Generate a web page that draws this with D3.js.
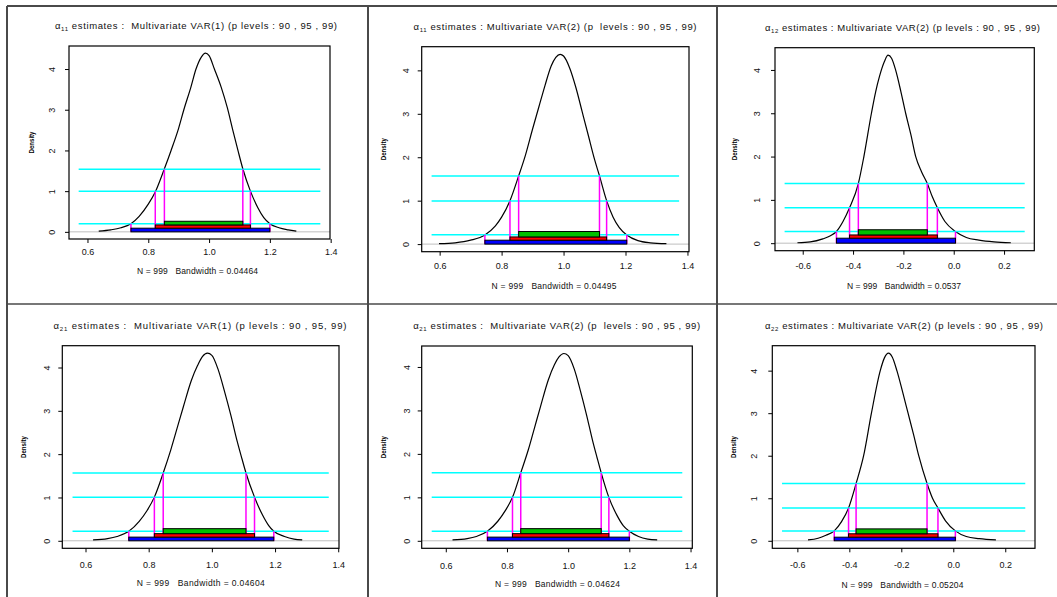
<!DOCTYPE html>
<html><head><meta charset="utf-8">
<script src="https://cdnjs.cloudflare.com/ajax/libs/d3/7.8.5/d3.min.js"></script>
<style>
body{margin:0;background:#fff}
svg{display:block}
text{font-family:"Liberation Sans",Arial,Helvetica,sans-serif}
</style>
</head><body>
<svg id="c" width="1057" height="597"></svg>
<script>
// ---------------- DATA ----------------
const titleSubs = ["11", "11", "12", "21", "21", "22"];
const titleRest = [
  " estimates :  Multivariate VAR(1) (p levels : 90 , 95 , 99)",
  " estimates : Multivariate VAR(2) (p  levels : 90 , 95 , 99)",
  " estimates : Multivariate VAR(2) (p levels : 90 , 95 , 99)",
  " estimates :  Multivariate VAR(1) (p levels : 90 , 95, 99)",
  " estimates :  Multivariate VAR(2) (p  levels : 90 , 95 , 99)",
  " estimates : Multivariate VAR(2) (p levels : 90 , 95 , 99)"
];
const nObs = 999;
const bandwidths = ["0.04464", "0.04495", "0.0537", "0.04604", "0.04624", "0.05204"];
const xTicksPos = [0.6, 0.8, 1.0, 1.2, 1.4];
const xTicksNeg = [-0.6, -0.4, -0.2, 0.0, 0.2];
const yTicks = [0, 1, 2, 3, 4];

// density curves (x, density)
const densX1 = [0.637,0.677,0.71,0.743,0.77,0.80,0.823,0.853,0.875,0.90,0.917,0.94,0.957,0.975,0.988,1.0,1.0175,1.04,1.06,1.078,1.095,1.111,1.136,1.16,1.18,1.2,1.23,1.26,1.287];
const densY1 = [0.02,0.05,0.1,0.2,0.38,0.68,0.98,1.55,2.0,2.55,3.0,3.55,4.0,4.3,4.39,4.33,4.0,3.55,3.05,2.5,2.0,1.55,1.0,0.6,0.35,0.2,0.1,0.05,0.02];
const densX2 = [0.598,0.65,0.70,0.746,0.78,0.80,0.827,0.855,0.877,0.90,0.92,0.94,0.96,0.975,0.989,1.0,1.02,1.04,1.06,1.08,1.10,1.116,1.139,1.16,1.18,1.204,1.24,1.28,1.332];
const densY2 = [0.01,0.03,0.09,0.21,0.42,0.62,1.0,1.57,2.05,2.65,3.15,3.65,4.1,4.3,4.37,4.33,4.05,3.6,3.05,2.5,1.95,1.57,1.0,0.62,0.38,0.21,0.08,0.03,0.01];
const densX3 = [-0.621,-0.57,-0.52,-0.49,-0.466,-0.44,-0.414,-0.379,-0.357,-0.327,-0.31,-0.295,-0.275,-0.261,-0.247,-0.231,-0.21,-0.191,-0.17,-0.151,-0.128,-0.105,-0.085,-0.065,-0.035,0.007,0.05,0.10,0.16,0.227];
const densY3 = [0.01,0.03,0.1,0.17,0.27,0.5,0.818,1.377,2.0,3.0,3.5,3.85,4.2,4.34,4.27,4.0,3.5,3.0,2.5,2.0,1.65,1.377,1.07,0.818,0.5,0.27,0.13,0.07,0.03,0.01];
const densX4 = [0.624,0.67,0.70,0.737,0.77,0.795,0.818,0.846,0.87,0.89,0.91,0.935,0.955,0.97,0.986,1.0,1.02,1.04,1.06,1.08,1.095,1.108,1.135,1.16,1.18,1.196,1.23,1.26,1.286];
const densY4 = [0.02,0.05,0.1,0.22,0.45,0.7,1.008,1.565,2.1,2.6,3.1,3.7,4.05,4.25,4.33,4.28,3.95,3.45,2.9,2.3,1.9,1.565,1.008,0.6,0.35,0.22,0.1,0.04,0.02];
const densX5 = [0.622,0.67,0.70,0.736,0.77,0.795,0.818,0.845,0.87,0.89,0.91,0.935,0.955,0.97,0.986,1.0,1.02,1.04,1.06,1.08,1.095,1.108,1.133,1.16,1.18,1.2,1.23,1.26,1.291];
const densY5 = [0.02,0.05,0.1,0.22,0.45,0.7,1.0,1.565,2.1,2.6,3.1,3.7,4.05,4.23,4.31,4.26,3.95,3.45,2.9,2.3,1.9,1.565,1.0,0.58,0.35,0.22,0.1,0.04,0.02];
const densX6 = [-0.559,-0.52,-0.49,-0.458,-0.43,-0.403,-0.374,-0.345,-0.315,-0.281,-0.265,-0.249,-0.235,-0.217,-0.195,-0.174,-0.153,-0.133,-0.101,-0.08,-0.059,-0.03,0.008,0.05,0.10,0.164];
const densY6 = [0.02,0.06,0.13,0.233,0.45,0.77,1.346,2.0,3.0,4.0,4.3,4.41,4.32,4.0,3.5,3.0,2.5,2.0,1.346,1.0,0.77,0.47,0.233,0.1,0.05,0.02];

// quantile intervals [90%, 95%, 99%] as [low, high]
const quant1 = [[0.853,1.111],[0.823,1.136],[0.743,1.2]];
const quant2 = [[0.855,1.116],[0.827,1.139],[0.746,1.204]];
const quant3 = [[-0.379,-0.105],[-0.414,-0.065],[-0.466,0.007]];
const quant4 = [[0.846,1.108],[0.818,1.135],[0.737,1.196]];
const quant5 = [[0.845,1.108],[0.818,1.133],[0.736,1.2]];
const quant6 = [[-0.374,-0.101],[-0.403,-0.059],[-0.458,0.008]];
// density levels at the quantiles [90%, 95%, 99%]
const level1 = [1.54, 1.0, 0.2];
const level2 = [1.57, 0.995, 0.214];
const level3 = [1.377, 0.818, 0.27];
const level4 = [1.565, 1.008, 0.22];
const level5 = [1.565, 1.0, 0.22];
const level6 = [1.346, 0.77, 0.233];
// stacked interval bars edges: [0, top of 99%, top of 95%, top of 90%]
const barEdge1 = [0, 0.09, 0.17, 0.26];
const barEdge2 = [0, 0.09, 0.165, 0.29];
const barEdge3 = [0, 0.115, 0.19, 0.31];
const barEdge4 = [0, 0.085, 0.165, 0.28];
const barEdge5 = [0, 0.085, 0.165, 0.28];
const barEdge6 = [0, 0.085, 0.165, 0.28];
// horizontal range of the level lines (x limits)
const xlim1 = [0.571, 1.366];
const xlim2 = [0.574, 1.373];
const xlim3 = [-0.672, 0.282];
const xlim4 = [0.559, 1.370];
const xlim5 = [0.554, 1.373];
const xlim6 = [-0.659, 0.277];

// ---------------- LAYOUT ----------------
const layout = [
  {box:[69,46,330,239],      tx:196,   ty:26,   tw:282, xly:251.7, sx:197.5, sy:270.7, sw:121, ylx:32,    ytx:51.7},
  {box:[421.7,46.7,689,251.7], tx:555, ty:26.7, tw:283, xly:265.7, sx:554,   sy:285.7, sw:125, ylx:383.3, ytx:406},
  {box:[775,47.7,1034.3,250.7], tx:902.5, ty:27.3, tw:275, xly:265.7, sx:904, sy:285.7, sw:114, ylx:735, ytx:757.3},
  {box:[62.3,345.7,339,548.3], tx:200, ty:326,  tw:293, xly:565,   sx:200.8, sy:583.3, sw:128, ylx:24,    ytx:46.7},
  {box:[421.7,346,692.3,548.3], tx:556.7, ty:326, tw:287, xly:565.7, sx:557.5, sy:584, sw:125, ylx:384, ytx:406.7},
  {box:[772.3,345.7,1035,548.3], tx:904, ty:325.7, tw:278, xly:565, sx:902.5, sy:585, sw:122, ylx:734, ytx:754}
];

const panels = [
  {dx:densX1, dy:densY1, q:quant1, lev:level1, bar:barEdge1, xlim:xlim1, ticks:xTicksPos},
  {dx:densX2, dy:densY2, q:quant2, lev:level2, bar:barEdge2, xlim:xlim2, ticks:xTicksPos},
  {dx:densX3, dy:densY3, q:quant3, lev:level3, bar:barEdge3, xlim:xlim3, ticks:xTicksNeg},
  {dx:densX4, dy:densY4, q:quant4, lev:level4, bar:barEdge4, xlim:xlim4, ticks:xTicksPos},
  {dx:densX5, dy:densY5, q:quant5, lev:level5, bar:barEdge5, xlim:xlim5, ticks:xTicksPos},
  {dx:densX6, dy:densY6, q:quant6, lev:level6, bar:barEdge6, xlim:xlim6, ticks:xTicksNeg}
];

const FONT = '"Liberation Sans",Arial,Helvetica,sans-serif';
const barColors = ["#00c000", "#ff0000", "#0000ff"]; // 90, 95, 99
const svg = d3.select("#c");
svg.append("rect").attr("width",1057).attr("height",597).attr("fill","#fff");

// frame lines
const frame = svg.append("g").attr("stroke","#4a4a4a");
[[7,6,7,597,2],[368,6,368,597,2],[717,6,717,597,2],[7,6,1057,6,2],[7,304,1057,304,1.6]].forEach(l=>{
  frame.append("line").attr("x1",l[0]).attr("y1",l[1]).attr("x2",l[2]).attr("y2",l[3]).attr("stroke-width",l[4]);
});

const fmt = d => d3.format(".1f")(d).replace("\u2212","-");

panels.forEach((p,i)=>{
  const L = layout[i];
  const [x0,y0,x1,y1] = L.box;
  const ext = (p.xlim[1]-p.xlim[0])*0.04;
  const x = d3.scaleLinear().domain([p.xlim[0]-ext, p.xlim[1]+ext]).range([x0,x1]);
  const peak = d3.max(p.dy);
  const y = d3.scaleLinear().domain([-0.04*peak, 1.04*peak]).range([y1,y0]);
  const g = svg.append("g");

  // zero line
  g.append("line").attr("x1",x0).attr("x2",x1).attr("y1",y(0)).attr("y2",y(0))
    .attr("stroke","#bebebe").attr("stroke-width",1);

  // density curve
  const pts = p.dx.map((v,k)=>[v,p.dy[k]]);
  g.append("path").datum(pts)
    .attr("d", d3.line().x(d=>x(d[0])).y(d=>y(d[1])).curve(d3.curveMonotoneX))
    .attr("fill","none").attr("stroke","#000").attr("stroke-width",1.2);

  // level lines (cyan)
  p.lev.forEach(l=>{
    g.append("line").attr("x1",x(p.xlim[0])).attr("x2",x(p.xlim[1]))
      .attr("y1",y(l)).attr("y2",y(l)).attr("stroke","#00ffff").attr("stroke-width",1.5);
  });
  // quantile verticals (magenta)
  p.q.forEach((qq,k)=>{
    qq.forEach(v=>{
      g.append("line").attr("x1",x(v)).attr("x2",x(v)).attr("y1",y(0)).attr("y2",y(p.lev[k]))
        .attr("stroke","#ff00ff").attr("stroke-width",1.5);
    });
  });
  // interval bars: 99% bottom, 95% middle, 90% top
  [2,1,0].forEach((k,j)=>{
    const lo = p.bar[j], hi = p.bar[j+1];
    g.append("rect").attr("x",x(p.q[k][0])).attr("width",x(p.q[k][1])-x(p.q[k][0]))
      .attr("y",y(hi)).attr("height",y(lo)-y(hi))
      .attr("fill",barColors[k]).attr("stroke","#000").attr("stroke-width",1);
  });

  // box
  g.append("rect").attr("x",x0).attr("y",y0).attr("width",x1-x0).attr("height",y1-y0)
    .attr("fill","none").attr("stroke","#000").attr("stroke-width",1.2);

  // x axis
  const gx = g.append("g").attr("transform",`translate(0,${y1})`)
    .call(d3.axisBottom(x).tickValues(p.ticks).tickSize(4).tickFormat(fmt));
  gx.select(".domain").remove();
  gx.attr("font-family",FONT).attr("font-size",9).attr("color","#000");
  gx.selectAll("text").attr("y", L.xly - y1).attr("dy","0.35em").attr("fill","#111");

  // y axis
  const gy = g.append("g").attr("transform",`translate(${x0},0)`)
    .call(d3.axisLeft(y).tickValues(yTicks).tickSize(4).tickFormat(d3.format("d")));
  gy.select(".domain").remove();
  gy.attr("font-family",FONT).attr("font-size",9).attr("color","#000");
  gy.selectAll("text").attr("x",0).attr("dy","0.35em").attr("text-anchor","middle")
    .attr("transform",`translate(${L.ytx - x0},0) rotate(-90)`).attr("fill","#111");

  // y label
  g.append("text").attr("transform",`translate(${L.ylx},${(y0+y1)/2}) rotate(-90)`)
    .attr("text-anchor","middle").attr("dy","0.35em").attr("font-size",7).attr("font-weight","bold")
    .attr("textLength",22).attr("lengthAdjust","spacingAndGlyphs").text("Density");

  // title
  const t = g.append("text").attr("x",L.tx - L.tw/2).attr("y",L.ty).attr("dy","0.35em")
    .attr("font-size",9.5).attr("fill","#111").style("white-space","pre")
    .attr("textLength",L.tw).attr("lengthAdjust","spacing");
  t.append("tspan").text("\u03b1");
  t.append("tspan").attr("font-size",6).attr("dy",2).text(titleSubs[i]);
  t.append("tspan").attr("dy",-2).text(titleRest[i]);

  // sub text
  g.append("text").attr("x",L.sx - L.sw/2).attr("y",L.sy).attr("dy","0.35em")
    .attr("font-size",8.5).attr("fill","#111").style("white-space","pre")
    .attr("textLength",L.sw).attr("lengthAdjust","spacing")
    .text(`N = ${nObs}   Bandwidth = ${bandwidths[i]}`);
});
</script>
</body></html>
